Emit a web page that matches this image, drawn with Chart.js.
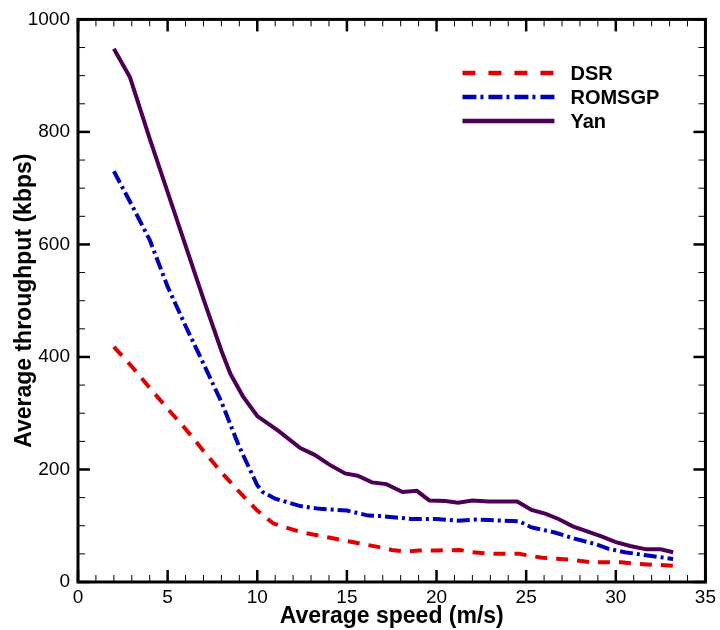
<!DOCTYPE html>
<html>
<head>
<meta charset="utf-8">
<script src="https://cdn.jsdelivr.net/npm/chart.js@4.4.1/dist/chart.umd.min.js"></script>
<style>
html, body { margin: 0; padding: 0; background: #fff; }
</style>
</head>
<body>
<canvas id="throughputChart" width="720" height="630"></canvas>
<script>
// 數據
const dsrSpeed = [2, 3, 4, 5, 6, 7, 8, 9, 10, 10.9, 12.5, 14, 15.3, 16.8, 17.5, 18.3, 19, 20, 21.3, 22, 23, 24.6, 25.9, 27.4, 28.6, 30.3, 31.3, 33.2];
const dsrThroughput = [418, 383, 345, 308, 272, 233, 195, 160, 127, 104, 88, 79, 71, 62, 57, 54, 56, 56, 57, 53, 50, 50, 43, 40, 35, 35, 32, 29];

const romsgpSpeed = [2, 3, 4, 5, 6, 7, 8, 9, 10, 10.3, 11, 12.4, 13.5, 15, 16.2, 17, 18.6, 20, 21.2, 22.2, 23, 24.6, 25.3, 26.6, 27.7, 28.8, 29.6, 30.5, 31.8, 33.2];
const romsgpThroughput = [730, 670, 608, 525, 455, 388, 320, 240, 172, 160, 148, 135, 130, 127, 118, 117, 112, 112, 109, 111, 110, 108, 97, 88, 77, 68, 59, 53, 47, 41];

const yanSpeed = [2, 2.9, 4, 5, 6, 7, 8, 8.5, 9.2, 10, 11.2, 12.4, 13.2, 14, 14.9, 15.6, 16.4, 17.2, 18.1, 18.9, 19.6, 20.5, 21.2, 22, 22.9, 24.5, 25.3, 26.1, 26.8, 27.6, 28.4, 29.2, 30, 30.8, 31.7, 32.5, 33.2];
const yanThroughput = [948, 897, 788, 693, 598, 503, 411, 370, 330, 295, 268, 238, 226, 209, 193, 189, 177, 174, 160, 162, 145, 144, 141, 145, 143, 143, 128, 121, 112, 99, 90, 81, 71, 64, 58, 58, 53];

const seriesNames = ['DSR', 'ROMSGP', 'Yan'];

// 軸設定
const xMin = 0, xMax = 35, xMajor = 5, xMinor = 1;
const yMin = 0, yMax = 1000, yMajor = 200, yMinor = 50;

const fontFamily = '"Liberation Sans", Arial, Helvetica, sans-serif';

function toPoints(xs, ys) {
    return xs.map((x, i) => ({ x: x, y: ys[i] }));
}

// 刻度與邊框 (向內的刻度)
const axisFrame = {
    id: 'axisFrame',
    afterDraw(chart) {
        const ctx = chart.ctx;
        const a = chart.chartArea;
        const xs = chart.scales.x;
        const ys = chart.scales.y;
        ctx.save();
        ctx.strokeStyle = '#000';
        ctx.lineCap = 'butt';

        function seg(x1, y1, x2, y2) {
            ctx.beginPath();
            ctx.moveTo(x1, y1);
            ctx.lineTo(x2, y2);
            ctx.stroke();
        }

        for (let v = xMin; v <= xMax; v += xMinor) {
            const px = xs.getPixelForValue(v);
            const major = v % xMajor === 0;
            const len = major ? 12 : 7;
            ctx.lineWidth = major ? 2.5 : 1;
            seg(px, a.bottom, px, a.bottom - len);
            seg(px, a.top, px, a.top + len);
        }
        for (let v = yMin; v <= yMax; v += yMinor) {
            const py = ys.getPixelForValue(v);
            const major = v % yMajor === 0;
            const len = major ? 12 : 7;
            ctx.lineWidth = major ? 2.5 : 1;
            seg(a.left, py, a.left + len, py);
            seg(a.right, py, a.right - len, py);
        }

        ctx.lineWidth = 3;
        ctx.strokeRect(a.left, a.top, a.right - a.left, a.bottom - a.top);
        ctx.restore();
    }
};

// 圖例 (右上角)
const insideLegend = {
    id: 'insideLegend',
    afterDraw(chart) {
        const ctx = chart.ctx;
        const a = chart.chartArea;
        const x0 = a.right - 243;
        const x1 = a.right - 151;
        const textX = a.right - 135;
        const rows = [73, 97, 121];
        ctx.save();
        ctx.font = 'bold 20px ' + fontFamily;
        ctx.textBaseline = 'middle';
        ctx.fillStyle = '#000';
        chart.data.datasets.forEach((ds, i) => {
            const y = rows[i];
            ctx.strokeStyle = ds.borderColor;
            ctx.lineWidth = 4.5;
            ctx.setLineDash(ds.legendDash || []);
            ctx.beginPath();
            ctx.moveTo(x0, y);
            ctx.lineTo(x1, y);
            ctx.stroke();
            ctx.setLineDash([]);
            ctx.fillText(ds.label, textX, y + 1);
        });
        ctx.restore();
    }
};

const chart = new Chart(document.getElementById('throughputChart'), {
    type: 'line',
    data: {
        datasets: [{
            label: seriesNames[0],
            data: toPoints(dsrSpeed, dsrThroughput),
            borderColor: '#E00000',
            borderWidth: 4,
            borderDash: [12, 9],
            legendDash: [13, 13],
            pointRadius: 0,
            tension: 0,
            fill: false
        }, {
            label: seriesNames[1],
            data: toPoints(romsgpSpeed, romsgpThroughput),
            borderColor: '#0000B4',
            borderWidth: 4,
            borderDash: [13, 4, 3, 4],
            legendDash: [14, 4, 3, 5],
            pointRadius: 0,
            tension: 0,
            fill: false
        }, {
            label: seriesNames[2],
            data: toPoints(yanSpeed, yanThroughput),
            borderColor: '#4B0055',
            borderWidth: 4,
            pointRadius: 0,
            tension: 0,
            fill: false
        }]
    },
    options: {
        responsive: false,
        animation: false,
        layout: { padding: { top: 15, right: 12, left: 0, bottom: 0 } },
        plugins: {
            legend: { display: false },
            tooltip: { enabled: false }
        },
        scales: {
            x: {
                type: 'linear',
                min: xMin,
                max: xMax,
                grid: { display: false, drawTicks: false },
                border: { display: false },
                ticks: {
                    stepSize: xMajor,
                    padding: 4,
                    color: '#000',
                    font: { family: fontFamily, size: 19 },
                    callback: (v) => String(v)
                },
                title: {
                    display: true,
                    text: 'Average speed (m/s)',
                    color: '#000',
                    padding: { top: 0, bottom: 0 },
                    font: { family: fontFamily, size: 23, weight: 'bold' }
                },
                afterFit(scale) { scale.height = 48; }
            },
            y: {
                type: 'linear',
                min: yMin,
                max: yMax,
                grid: { display: false, drawTicks: false },
                border: { display: false },
                ticks: {
                    stepSize: yMajor,
                    padding: 8,
                    color: '#000',
                    font: { family: fontFamily, size: 19 },
                    callback: (v) => String(v)
                },
                title: {
                    display: true,
                    text: 'Average throughput (kbps)',
                    color: '#000',
                    padding: { top: 11, bottom: 0 },
                    font: { family: fontFamily, size: 23, weight: 'bold' }
                },
                afterFit(scale) { scale.width = 78; }
            }
        }
    },
    plugins: [axisFrame, insideLegend]
});
</script>
</body>
</html>
